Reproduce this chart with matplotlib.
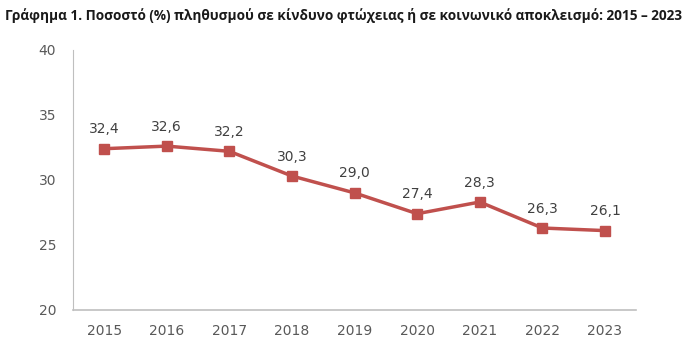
import matplotlib
matplotlib.use("Agg")
import matplotlib.pyplot as plt

years = ["2015", "2016", "2017", "2018", "2019", "2020", "2021", "2022", "2023"]
values = [32.4, 32.6, 32.2, 30.3, 29.0, 27.4, 28.3, 26.3, 26.1]
yticks = [20, 25, 30, 35, 40]

title = "Γράφημα 1. Ποσοστό (%) πληθυσμού σε κίνδυνο φτώχειας ή σε κοινωνικό αποκλεισμό: 2015 – 2023"

fig = plt.figure(figsize=(7, 3.49), dpi=100)
ax = fig.add_axes([0.104, 0.112, 0.805, 0.745])

x = list(range(len(years)))
ax.plot(x, values, color="#C0504D", lw=2.5, marker="s", ms=6.5, zorder=3)

for xi, v in zip(x, values):
    ax.annotate(f"{v:.1f}".replace(".", ","), (xi, v), xytext=(0, 9),
                textcoords="offset points", ha="center", va="bottom",
                fontsize=10, color="#404040")

ax.set_xlim(-0.5, len(years) - 0.5)
ax.set_ylim(20, 40)
ax.set_yticks(yticks)
ax.set_xticks(x)
ax.set_xticklabels(years)
ax.tick_params(axis="both", length=0, labelsize=10, colors="#595959")
ax.tick_params(axis="x", pad=10)
ax.tick_params(axis="y", pad=12)

for s in ["top", "right"]:
    ax.spines[s].set_visible(False)
ax.spines["left"].set_color("#BFBFBF")
ax.spines["bottom"].set_color("#BFBFBF")
ax.spines["bottom"].set_linewidth(1.2)

fig.text(0.007, 0.955, title, fontsize=9.85, fontweight="bold",
         family=["Open Sans", "DejaVu Sans"],
         ha="left", va="center", color="#1a1a1a")

fig.savefig("out.png", dpi=100)
